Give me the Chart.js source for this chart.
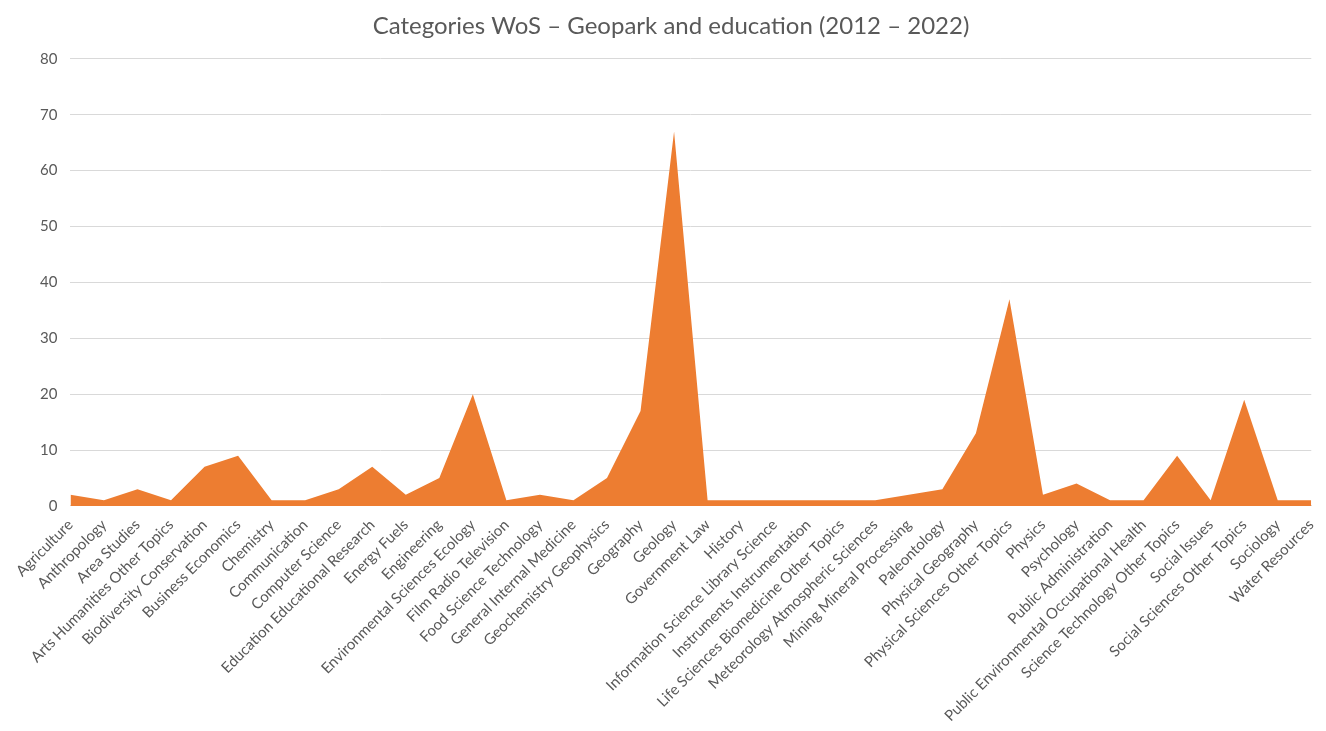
<!DOCTYPE html>
<html>
<head>
<meta charset="utf-8">
<script src="https://cdn.jsdelivr.net/npm/chart.js@4"></script>
<style>
  html, body { margin: 0; padding: 0; background: #fff; }
  #wrap { width: 1326px; height: 731px; }
</style>
</head>
<body>
<div id="wrap"><canvas id="wosChart"></canvas></div>
<script>
const categories = ['Agriculture', 'Anthropology', 'Area Studies', 'Arts Humanities Other Topics', 'Biodiversity Conservation',
    'Business Economics', 'Chemistry', 'Communication', 'Computer Science', 'Education Educational Research',
    'Energy Fuels', 'Engineering', 'Environmental Sciences Ecology', 'Film Radio Television', 'Food Science Technology',
    'General Internal Medicine', 'Geochemistry Geophysics', 'Geography', 'Geology', 'Government Law', 'History',
    'Information Science Library Science', 'Instruments Instrumentation', 'Life Sciences Biomedicine Other Topics',
    'Meteorology Atmospheric Sciences', 'Mining Mineral Processing', 'Paleontology', 'Physical Geography',
    'Physical Sciences Other Topics', 'Physics', 'Psychology', 'Public Administration',
    'Public Environmental Occupational Health', 'Science Technology Other Topics', 'Social Issues',
    'Social Sciences Other Topics', 'Sociology', 'Water Resources'];
const counts = [2, 1, 3, 1, 7, 9, 1, 1, 3, 7, 2, 5, 20, 1, 2, 1, 5, 17, 67, 1, 1, 1, 1, 1, 1, 2, 3, 13, 37, 2, 4, 1, 1, 9, 1, 19, 1, 1];
const yTicks = [0, 10, 20, 30, 40, 50, 60, 70, 80];

const textColor = '#595959';
const fontFamily = 'Lato, "Open Sans", sans-serif';

const ctx = document.getElementById('wosChart').getContext('2d');
new Chart(ctx, {
    type: 'line',
    data: {
        labels: categories,
        datasets: [{
            label: 'Count',
            data: counts,
            backgroundColor: '#ED7D31',
            borderColor: '#ED7D31',
            borderWidth: 0,
            pointRadius: 0,
            fill: 'origin',
            tension: 0
        }]
    },
    options: {
        responsive: true,
        maintainAspectRatio: false,
        animation: false,
        layout: { padding: { left: 27, right: 11, top: 6, bottom: 4 } },
        scales: {
            x: {
                offset: false,
                grid: { display: false },
                border: { display: true, color: '#d9d9d9' },
                ticks: {
                    autoSkip: false,
                    minRotation: 45,
                    maxRotation: 45,
                    color: textColor,
                    padding: 2,
                    font: { family: fontFamily, size: 15 }
                }
            },
            y: {
                min: 0,
                max: 80,
                afterBuildTicks: axis => { axis.ticks = yTicks.map(v => ({ value: v })); },
                grid: { color: '#d9d9d9', drawTicks: false },
                border: { display: false },
                ticks: {
                    color: textColor,
                    padding: 13,
                    font: { family: fontFamily, size: 15 }
                }
            }
        },
        plugins: {
            legend: { display: false },
            tooltip: { enabled: false },
            title: {
                display: true,
                text: 'Categories WoS \u2013 Geopark and education (2012 \u2013 2022)',
                color: textColor,
                font: { family: fontFamily, size: 24, weight: 'normal' },
                padding: { top: 6, bottom: 18 }
            }
        }
    }
});
</script>
</body>
</html>
